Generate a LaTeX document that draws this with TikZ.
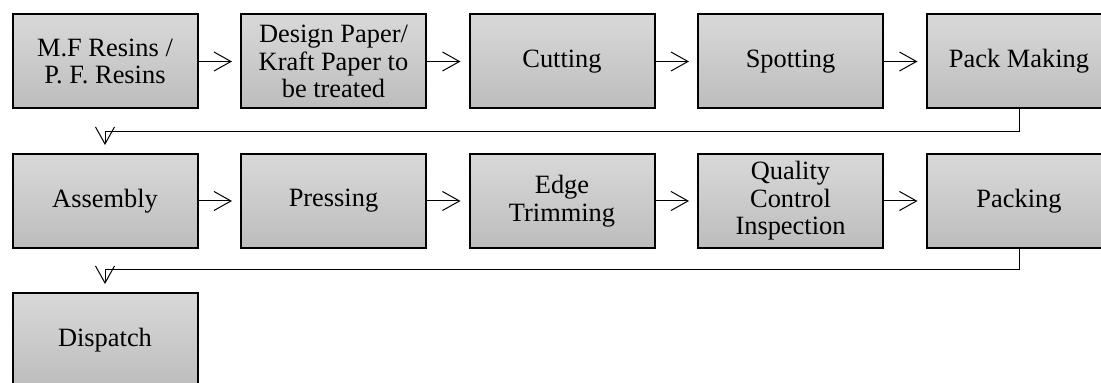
\documentclass[tikz,border=0pt]{standalone}
\usepackage{fontspec}
\setmainfont{Liberation Serif}
\usetikzlibrary{arrows.meta}

\tikzset{
    stage/.style={draw,line width=1pt,top color=black!15,bottom color=black!26,
        minimum width=92.5pt,minimum height=47pt,align=center,inner sep=1pt,
        font=\fontsize{13.2}{13.8}\selectfont},
    flow/.style={-{Straight Barb[length=8.5pt,width=9.5pt]},line width=0.5pt,shorten >=4pt}
}

\begin{document}
\begin{tikzpicture}[x=0.5pt,y=-0.5pt]

    % page frame
    \useasboundingbox (0,0) rectangle (1101,383);
    \clip (0,0) rectangle (1101,383);

    % first row
    \node[stage] (mf)    at (105,61.5)    {M.F Resins /\\P. F. Resins};
    \node[stage] (paper) at (333.5,61.5)  {Design Paper/\\Kraft Paper to\\be treated};
    \node[stage] (cut)   at (562,61.5)    {Cutting};
    \node[stage] (spot)  at (790.5,61.5)  {Spotting};
    \node[stage] (pack)  at (1019,61.5)   {Pack Making};

    % second row
    \node[stage] (assembly) at (105,201)   {Assembly};
    \node[stage] (press)    at (333.5,201) {Pressing};
    \node[stage] (trim)     at (562,201)   {Edge\\Trimming};
    \node[stage] (qc)       at (790.5,201) {Quality\\Control\\Inspection};
    \node[stage] (packing)  at (1019,201)  {Packing};

    % third row
    \node[stage] (dispatch) at (105,340) {Dispatch};

    % arrows along the rows
    \foreach \a/\b in {mf/paper,paper/cut,cut/spot,spot/pack,
                       assembly/press,press/trim,trim/qc,qc/packing}
        \draw[flow] (\a) -- (\b);

    % arrows back to the next row
    \draw[flow] (pack.south) -- ++(0,22) -| (assembly.north);
    \draw[flow] (packing.south) -- ++(0,21) -| (dispatch.north);

\end{tikzpicture}
\end{document}
